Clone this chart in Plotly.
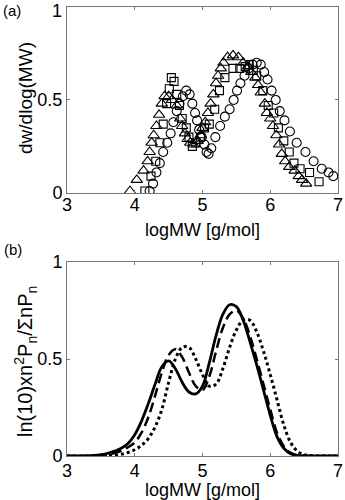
import plotly.graph_objects as go

# ---- panel (a): measured GPC data (markers) ----
tri_x = [3.93, 4.03, 4.13, 4.19, 4.22, 4.25, 4.28, 4.32, 4.36, 4.40, 4.44, 4.50, 4.55, 4.62, 4.67,
         4.70, 4.74, 4.78, 4.82, 4.87, 4.93, 4.97, 5.00, 5.04, 5.08, 5.12, 5.16, 5.20, 5.23, 5.27,
         5.31, 5.37, 5.45, 5.53, 5.60, 5.67, 5.72, 5.78, 5.82, 5.86, 5.92, 5.95, 6.00, 6.04, 6.09,
         6.13, 6.17, 6.22, 6.28, 6.36, 6.42, 6.47, 6.53]
tri_y = [0.01, 0.07, 0.12, 0.17, 0.22, 0.27, 0.31, 0.36, 0.42, 0.48, 0.52, 0.52, 0.50, 0.47, 0.40,
         0.36, 0.32, 0.29, 0.27, 0.26, 0.28, 0.31, 0.35, 0.38, 0.43, 0.48, 0.53, 0.59, 0.63, 0.67,
         0.70, 0.73, 0.74, 0.73, 0.70, 0.68, 0.65, 0.62, 0.58, 0.54, 0.48, 0.43, 0.40, 0.36, 0.31,
         0.26, 0.21, 0.17, 0.14, 0.12, 0.09, 0.07, 0.05]

sq_x = [4.15, 4.24, 4.31, 4.37, 4.42, 4.47, 4.51, 4.54, 4.58, 4.62, 4.66, 4.70, 4.76, 4.80, 4.85,
        4.90, 4.97, 5.03, 5.10, 5.18, 5.25, 5.33, 5.45, 5.55, 5.63, 5.69, 5.75, 5.80, 5.89, 5.97,
        6.05, 6.12, 6.20, 6.28, 6.35, 6.44, 6.58, 6.72]
sq_y = [0.01, 0.09, 0.17, 0.27, 0.37, 0.48, 0.56, 0.62, 0.60, 0.53, 0.47, 0.40, 0.35, 0.30, 0.25,
        0.27, 0.30, 0.35, 0.37, 0.45, 0.55, 0.62, 0.67, 0.67, 0.68, 0.69, 0.66, 0.63, 0.55, 0.47,
        0.43, 0.35, 0.28, 0.22, 0.16, 0.13, 0.11, 0.06]

circ_x = [4.22, 4.27, 4.32, 4.37, 4.42, 4.48, 4.53, 4.57, 4.62, 4.66, 4.71, 4.76, 4.81, 4.85, 4.89,
          4.92, 4.95, 4.99, 5.03, 5.06, 5.09, 5.13, 5.19, 5.26, 5.33, 5.40, 5.46, 5.51, 5.56, 5.62,
          5.68, 5.74, 5.80, 5.86, 5.91, 5.96, 6.02, 6.08, 6.14, 6.21, 6.29, 6.39, 6.52, 6.64, 6.76,
          6.86, 6.93]
circ_y = [0.01, 0.05, 0.11, 0.16, 0.22, 0.27, 0.32, 0.38, 0.44, 0.48, 0.52, 0.55, 0.53, 0.48, 0.43,
          0.39, 0.34, 0.30, 0.26, 0.22, 0.21, 0.24, 0.30, 0.36, 0.41, 0.45, 0.50, 0.55, 0.59, 0.63,
          0.67, 0.69, 0.70, 0.69, 0.65, 0.61, 0.55, 0.50, 0.44, 0.39, 0.33, 0.27, 0.22, 0.17, 0.13,
          0.11, 0.09]

# ---- panel (b): model predictions (lines) ----
logmw = [3.0, 3.1, 3.2, 3.3, 3.4, 3.5, 3.6, 3.7, 3.8, 3.9, 4.0, 4.1, 4.2, 4.3, 4.4, 4.5, 4.6, 4.7,
         4.8, 4.9, 5.0, 5.1, 5.2, 5.3, 5.4, 5.5, 5.6, 5.7, 5.8, 5.9, 6.0, 6.1, 6.2, 6.3, 6.4, 6.5,
         6.6, 6.7, 6.8, 6.9, 7.0]
solid_y = [0.0, 0.0, 0.0, 0.001, 0.003, 0.007, 0.014, 0.025, 0.04, 0.065, 0.11, 0.18, 0.27, 0.37,
           0.46, 0.49, 0.45, 0.38, 0.33, 0.32, 0.36, 0.48, 0.62, 0.73, 0.78, 0.77, 0.70, 0.59,
           0.47, 0.34, 0.21, 0.10, 0.04, 0.012, 0.003, 0.0, 0.0, 0.0, 0.0, 0.0, 0.0]
dash_y = [0.0, 0.0, 0.0, 0.0, 0.002, 0.004, 0.008, 0.015, 0.027, 0.045, 0.07, 0.12, 0.20, 0.31,
          0.43, 0.52, 0.55, 0.51, 0.43, 0.36, 0.34, 0.41, 0.54, 0.66, 0.73, 0.75, 0.71, 0.62,
          0.50, 0.37, 0.24, 0.12, 0.05, 0.016, 0.004, 0.001, 0.0, 0.0, 0.0, 0.0, 0.0]
dot_y = [0.0, 0.0, 0.0, 0.0, 0.0, 0.001, 0.002, 0.004, 0.009, 0.018, 0.032, 0.055, 0.09, 0.15,
         0.24, 0.38, 0.50, 0.56, 0.56, 0.50, 0.42, 0.36, 0.37, 0.45, 0.56, 0.65, 0.70, 0.70,
         0.64, 0.54, 0.42, 0.29, 0.16, 0.07, 0.025, 0.007, 0.002, 0.0, 0.0, 0.0, 0.0]

x_ticks = [3, 4, 5, 6, 7]
y_ticks = [0, 0.5, 1]
y_ticklabels_a = ["0", "0.5", ""]      # "1" of panel (a) drawn as annotation (top edge)
y_ticklabels_b = ["0", "0.5", "1"]

FONT = "Liberation Sans, Arial, sans-serif"
TICKF = dict(family=FONT, size=18, color="black")
TF = dict(family=FONT, size=18, color="black")


def mk(symbol, size):
    return dict(symbol=symbol, size=size, color="black", line=dict(color="black", width=1.1))


fig = go.Figure()
fig.add_trace(go.Scatter(x=tri_x, y=tri_y, mode="markers", xaxis="x", yaxis="y",
                         marker=mk("triangle-up-open", 10)))
fig.add_trace(go.Scatter(x=sq_x, y=sq_y, mode="markers", xaxis="x", yaxis="y",
                         marker=mk("square-open", 8)))
fig.add_trace(go.Scatter(x=circ_x, y=circ_y, mode="markers", xaxis="x", yaxis="y",
                         marker=mk("circle-open", 9)))

fig.add_trace(go.Scatter(x=logmw, y=dot_y, mode="lines", xaxis="x2", yaxis="y2",
                         line=dict(color="black", width=3, dash="3px,3px", shape="spline")))
fig.add_trace(go.Scatter(x=logmw, y=dash_y, mode="lines", xaxis="x2", yaxis="y2",
                         line=dict(color="black", width=2.5, dash="10px,5px", shape="spline")))
fig.add_trace(go.Scatter(x=logmw, y=solid_y, mode="lines", xaxis="x2", yaxis="y2",
                         line=dict(color="black", width=2.8, shape="spline")))

ax = dict(range=[3, 7], tickvals=x_ticks, ticks="inside", ticklen=3, tickcolor="#777",
          showline=True, linecolor="#777", linewidth=1, mirror="ticks", showgrid=False,
          zeroline=False, tickfont=TICKF, automargin=False, ticklabeloverflow="allow")
ay = dict(range=[0, 1], tickvals=y_ticks, ticks="inside", ticklen=3,
          tickcolor="#777", showline=True, linecolor="#777", linewidth=1, mirror="ticks",
          showgrid=False, zeroline=False, tickfont=TICKF, automargin=False,
          ticklabeloverflow="allow")

DOM_A = [0.586, 1.0]
DOM_B = [0.0, 0.432]

fig.update_layout(
    width=345, height=500, showlegend=False,
    plot_bgcolor="white", paper_bgcolor="white",
    margin=dict(l=67, r=7, t=7, b=44),
    xaxis=dict(ax, domain=[0, 1], anchor="y", ticklabelstandoff=-4),
    yaxis=dict(ay, domain=DOM_A, anchor="x", ticktext=y_ticklabels_a),
    xaxis2=dict(ax, domain=[0, 1], anchor="y2", ticklabelstandoff=-2),
    yaxis2=dict(ay, domain=DOM_B, anchor="x2", ticktext=y_ticklabels_b),
    annotations=[
        # tick label "1" of panel (a)
        dict(text="1", x=0, y=1, xref="paper", yref="paper", xanchor="right", yanchor="middle",
             xshift=-3, yshift=-4, showarrow=False, font=TICKF),
        # axis titles
        dict(text="logMW [g/mol]", x=0.5, y=DOM_A[0], xref="paper", yref="paper",
             xanchor="center", yanchor="middle", yshift=-37, showarrow=False, font=TF),
        dict(text="logMW [g/mol]", x=0.5, y=DOM_B[0], xref="paper", yref="paper",
             xanchor="center", yanchor="middle", yshift=-34, showarrow=False, font=TF),
        dict(text="dw/dlog(MW)", x=0, y=(DOM_A[0] + DOM_A[1]) / 2, xref="paper", yref="paper",
             xanchor="center", yanchor="middle", xshift=-41, yshift=2, textangle=-90,
             showarrow=False, font=dict(family=FONT, size=19, color="black")),
        dict(text="ln(10)xn<sup>2</sup>P<sub>n</sub>/ΣnP<sub>n</sub>", x=0,
             y=(DOM_B[0] + DOM_B[1]) / 2, xref="paper", yref="paper",
             xanchor="center", yanchor="middle", xshift=-42, yshift=-3, textangle=-90,
             showarrow=False, font=dict(family=FONT, size=20, color="black")),
        # panel labels
        dict(text="(a)", x=0, y=1, xref="paper", yref="paper", xanchor="left", yanchor="top",
             xshift=-66, yshift=7, showarrow=False, font=dict(family=FONT, size=15, color="black")),
        dict(text="(b)", x=0, y=DOM_B[1], xref="paper", yref="paper", xanchor="left",
             yanchor="top", xshift=-65, yshift=23, showarrow=False,
             font=dict(family=FONT, size=15, color="black")),
    ],
)

fig.write_html("out.html")
